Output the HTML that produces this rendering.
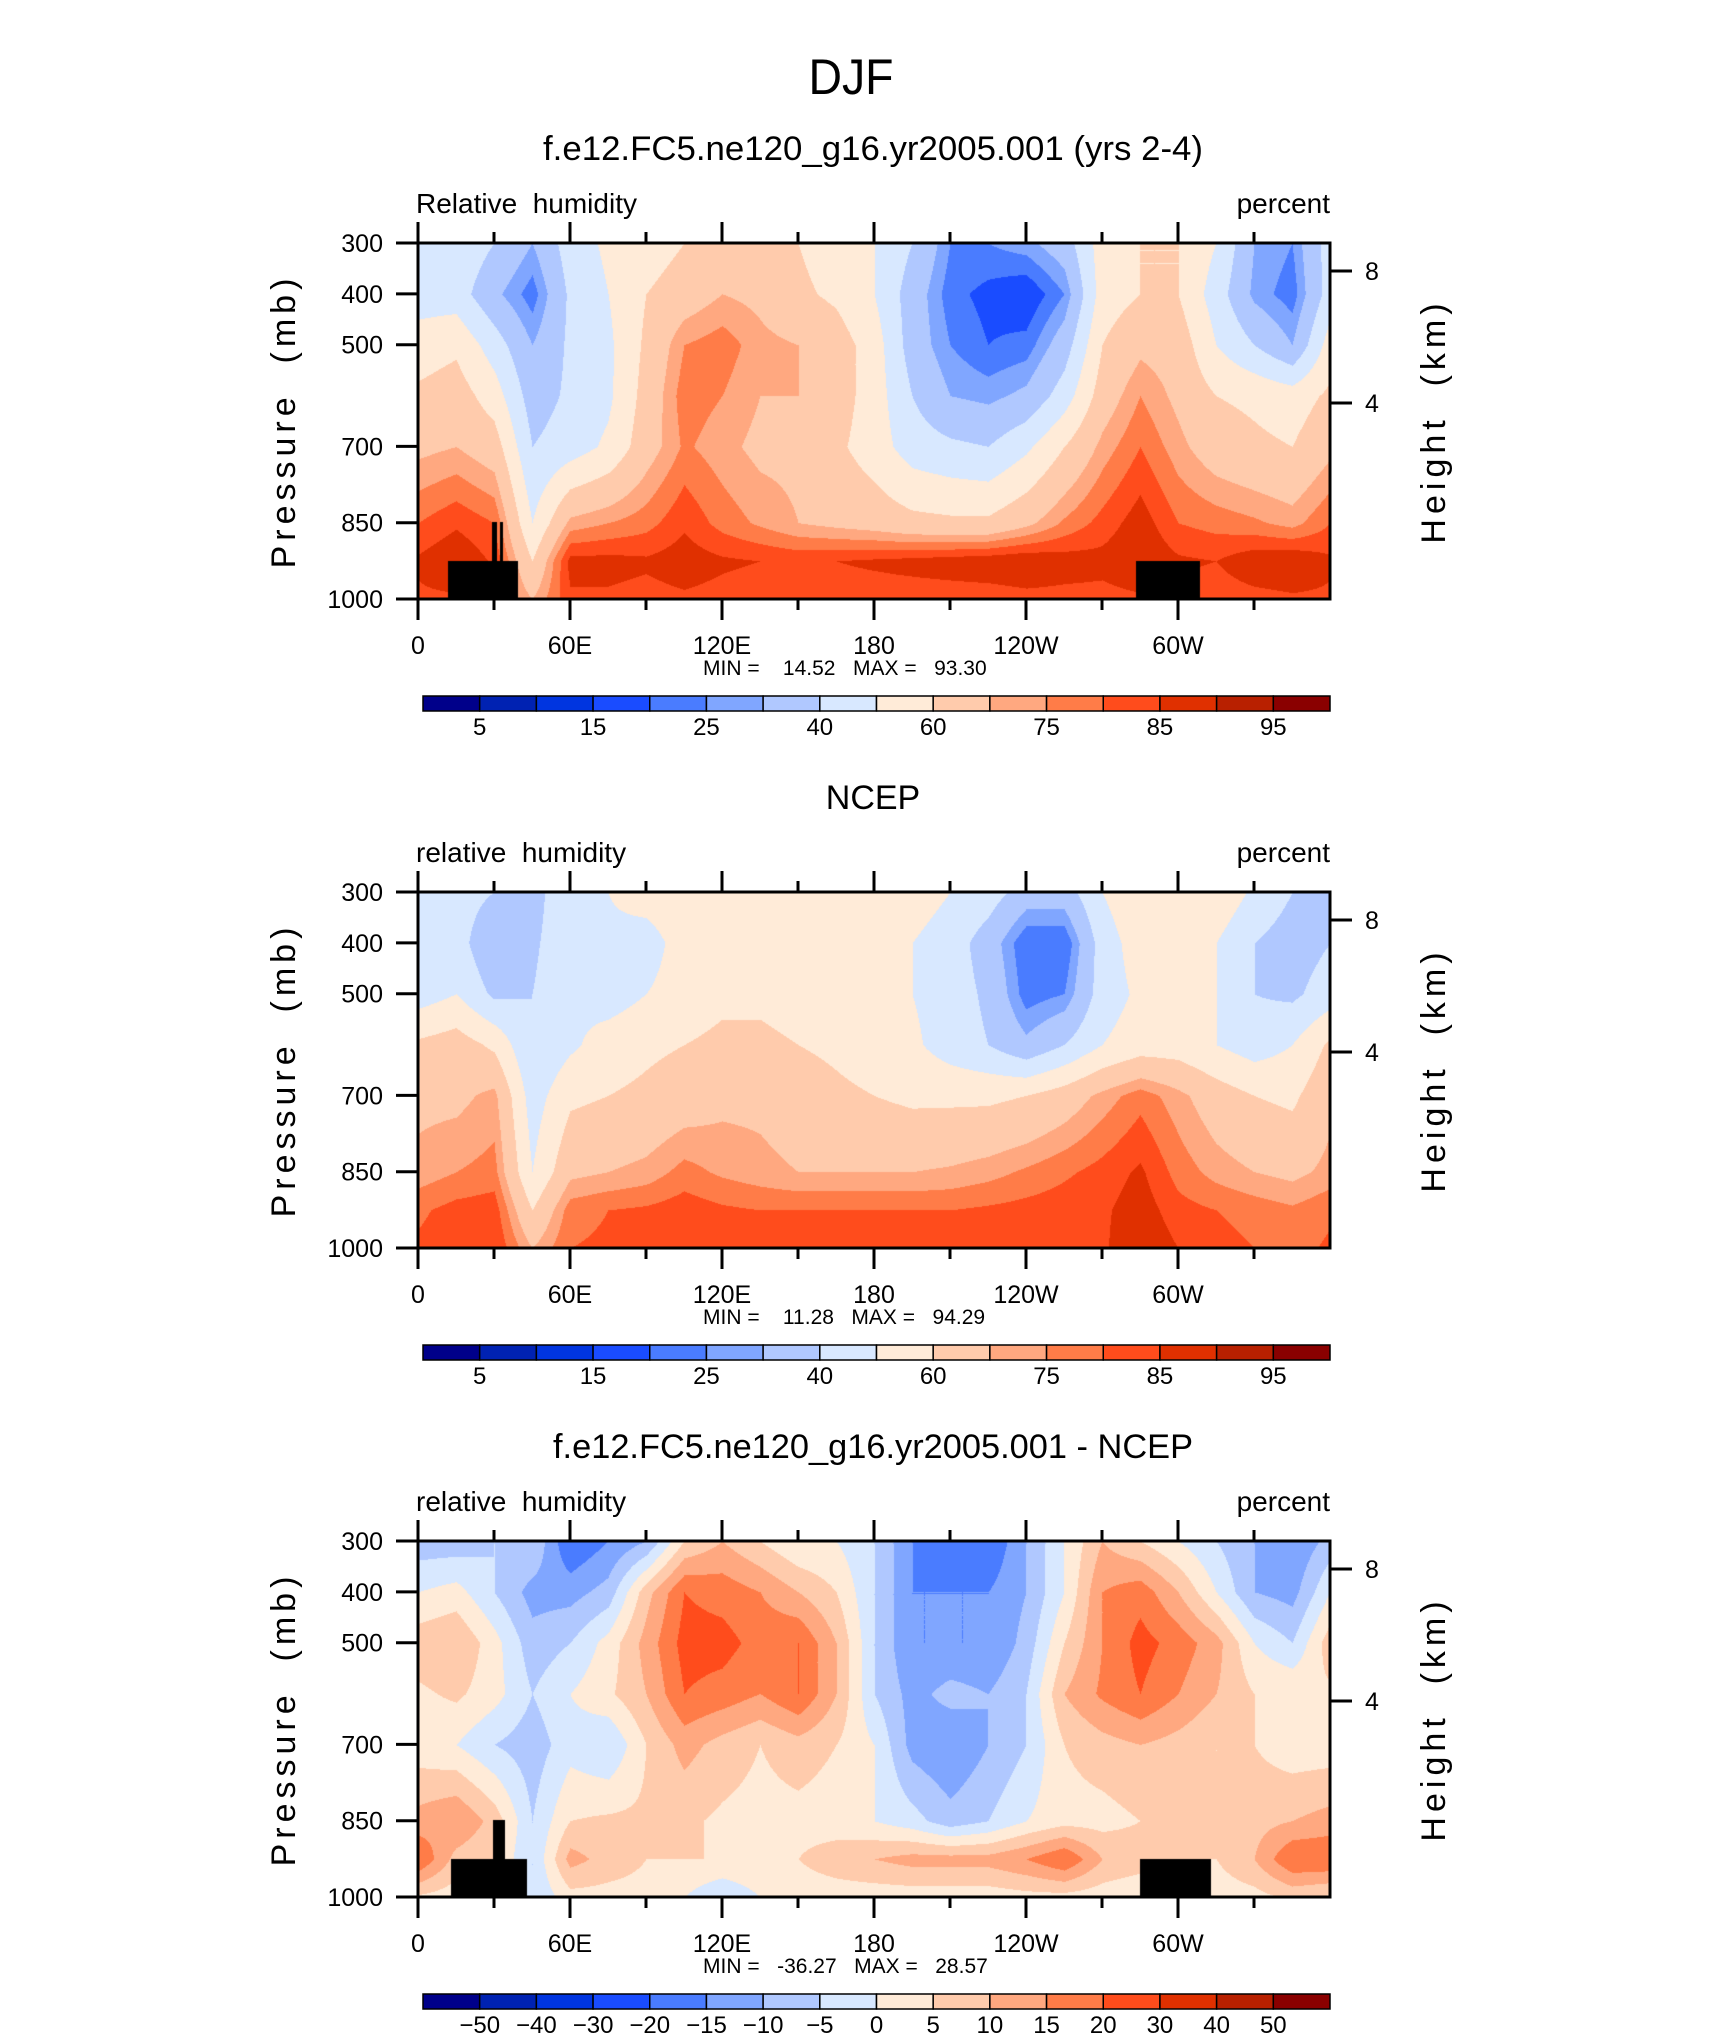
<!DOCTYPE html>
<html><head><meta charset="utf-8"><style>
html,body{margin:0;padding:0;background:#fff;}
#root{position:relative;width:1710px;height:2038px;overflow:hidden;}
canvas{position:absolute;}
svg{position:absolute;left:0;top:0;}
text{font-family:"Liberation Sans",sans-serif;fill:#000;}
</style></head><body>
<div id="root">
<canvas id="c0"></canvas>
<canvas id="c1"></canvas>
<canvas id="c2"></canvas>
<svg id="svg" width="1710" height="2038">
<text x="851" y="94" font-size="50" text-anchor="middle" textLength="85" lengthAdjust="spacingAndGlyphs">DJF</text>
</svg>
</div>
<script>
// ---- data ----
const lons = [0,15,30,45,60,75,90,105,120,135,150,165,180,195,210,225,240,255,270,285,300,315,330,345,360];
const levels = [300,400,500,600,700,850,925,1000];
const modelRH = [
[45,48,40,30,45,52,55,60,65,65,60,55,50,40,25,25,28,35,55,60,60,50,30,25,45],
[45,45,32,22,42,50,60,65,70,68,62,58,50,35,22,18,15,25,55,60,60,45,28,22,45],
[55,58,45,30,42,48,62,75,78,72,70,65,55,35,25,20,22,35,60,68,66,50,40,30,55],
[62,65,55,35,42,48,64,78,75,70,70,65,55,40,30,28,32,45,65,75,68,60,58,55,62],
[68,70,65,40,45,52,66,76,72,68,68,62,55,45,42,40,48,60,72,80,72,65,62,60,68],
[80,84,80,50,72,75,78,84,78,74,70,68,66,63,62,62,68,76,82,88,80,78,76,73,80],
[86,90,84,60,87,87,86,88,86,85,84,85,86,87,88,89,90,88,87,90,86,85,89,90,86],
[84,84,82,70,84,84,83,84,83,82,82,82,82,82,82,82,83,83,83,84,83,82,83,84,84]];
const ncepRH = [
[40,45,40,35,50,50,55,58,58,58,58,58,57,55,50,45,35,35,50,58,60,58,48,40,40],
[40,45,30,38,48,48,45,55,56,56,56,55,52,50,45,35,20,20,45,55,55,50,40,35,40],
[45,50,38,40,48,45,50,55,58,58,56,55,53,50,45,38,22,25,45,52,55,50,40,38,45],
[62,65,58,40,48,55,58,60,62,62,60,58,55,52,45,40,32,40,50,55,55,50,45,50,62],
[68,68,72,45,58,60,62,65,68,68,65,62,60,58,58,58,60,65,72,78,72,65,60,58,68],
[72,75,77,50,68,70,72,77,74,72,70,70,70,70,71,73,76,79,82,86,78,73,70,68,72],
[79,82,83,60,78,80,81,83,81,80,80,80,80,80,80,81,82,83,84,88,82,80,78,76,79],
[81,83,85,70,80,81,82,84,83,82,82,82,82,82,82,83,83,84,84,90,85,82,80,78,81]];
const diffRH = [
[-8,-8,-5,-5,-20,-15,-10,5,10,5,0,0,-5,-15,-20,-20,-10,0,10,5,0,-5,-10,-15,-8],
[0,2,-5,-12,-12,-8,8,20,18,15,10,5,-5,-15,-15,-15,-10,0,15,18,10,0,-10,-12,0],
[8,10,2,-8,-5,2,12,22,22,18,20,10,-5,-15,-15,-15,-8,5,15,22,18,12,0,-5,8],
[4,6,2,-5,0,4,10,20,18,15,20,10,-5,-12,-8,-10,-5,10,16,20,15,10,5,5,4],
[2,0,-5,-8,-2,-5,5,12,8,5,8,5,0,-12,-15,-10,-5,5,8,10,8,5,5,2,2],
[12,15,8,-5,5,6,6,6,4,3,3,2,0,-3,-8,-5,0,3,3,5,5,5,8,10,12],
[20,8,5,-5,12,8,5,5,5,5,5,8,10,12,12,12,15,20,10,8,5,5,10,20,20],
[4,2,2,-5,3,3,3,0,-5,0,2,2,2,2,2,2,3,3,2,0,2,2,3,6,4]];
const rhLevels = [5,10,15,20,25,30,40,50,60,70,75,80,85,90,95];
const rhLabels = ["5","15","25","40","60","75","85","95"];
const diffLevels = [-50,-40,-30,-20,-15,-10,-5,0,5,10,15,20,30,40,50];
const diffLabels = ["-50","-40","-30","-20","-15","-10","-5","0","5","10","15","20","30","40","50"];
const xTickLons = [0,60,120,180,240,300];
const xTickLabels = ["0","60E","120E","180","120W","60W"];
const pTicks = [300,400,500,700,850,1000];
const hTicks = [8,4];
const titles = ["f.e12.FC5.ne120_g16.yr2005.001 (yrs 2-4)","NCEP","f.e12.FC5.ne120_g16.yr2005.001 - NCEP"];
const leftLabels = ["Relative  humidity","relative  humidity","relative  humidity"];
const minmax = [["14.52","93.30"],["11.28","94.29"],["-36.27","28.57"]];
const colors = ["#00008a","#0022b2","#0035e0","#1a4cff","#4a7cff","#80a6ff","#b0c8ff","#d8e8ff","#ffebd8","#ffcbac","#ffa880","#ff7c48","#ff4c1c","#e03000","#b82000","#8a0000"];

// ---- layout ----
const X0=418, X1=1330, PH=356, PANEL_DY=649, TOP0=243;
const NS='http://www.w3.org/2000/svg';
const svg=document.getElementById('svg');
function xs(lon){return X0+(X1-X0)*lon/360;}
function ys(p,top){return top+PH*(p-300)/700;}
function hy(h,top){return top+28+(8-h)*(160-28)/4;}
function el(tag,attrs,text){const e=document.createElementNS(NS,tag);for(const k in attrs)e.setAttribute(k,attrs[k]);if(text!==undefined)e.textContent=text;svg.appendChild(e);return e;}

function valueAt(grid,lon,p){
  let i=Math.min(lons.length-2,Math.floor(lon/15));let fx=(lon-lons[i])/15;
  let j=0;while(j<levels.length-2&&p>levels[j+1])j++;
  let fy=(p-levels[j])/(levels[j+1]-levels[j]);
  const a=grid[j][i],b=grid[j][i+1],c=grid[j+1][i],d=grid[j+1][i+1];
  return (a*(1-fx)+b*fx)*(1-fy)+(c*(1-fx)+d*fx)*fy;
}
function colorIdx(v,lv){let k=0;while(k<lv.length&&v>=lv[k])k++;return k;}
function hexToRgb(h){return [parseInt(h.substr(1,2),16),parseInt(h.substr(3,2),16),parseInt(h.substr(5,2),16)];}
const rgb=colors.map(hexToRgb);

const grids=[modelRH,ncepRH,diffRH];
const lvls=[rhLevels,rhLevels,diffLevels];
const labs=[rhLabels,rhLabels,diffLabels];
const topo=[true,false,true];

for(let n=0;n<3;n++){
  const top=TOP0+n*PANEL_DY;
  const cv=document.getElementById('c'+n);
  const W=X1-X0,H=PH;
  cv.width=W;cv.height=H;cv.style.left=X0+'px';cv.style.top=top+'px';
  const ctx=cv.getContext('2d');const img=ctx.createImageData(W,H);
  for(let y=0;y<H;y++){const p=300+700*y/H;
    for(let x=0;x<W;x++){const lon=360*x/W;const v=valueAt(grids[n],lon,p);
      const c=rgb[colorIdx(v,lvls[n])];const o=(y*W+x)*4;
      img.data[o]=c[0];img.data[o+1]=c[1];img.data[o+2]=c[2];img.data[o+3]=255;}}
  ctx.putImageData(img,0,0);
  if(topo[n]){
    ctx.fillStyle='#000';
    if(n===0){ctx.fillRect(448-X0,561-243,70,H);ctx.fillRect(492-X0,522-243,5,H);ctx.fillRect(500-X0,522-243,3,H);ctx.fillRect(1136-X0,561-243,64,H);}
    else{ctx.fillRect(451-X0,1859-top,76,H);ctx.fillRect(493-X0,1820-top,12,H);ctx.fillRect(1140-X0,1859-top,71,H);}
  }
  const t=el('text',{x:873,y:top-83,'font-size':34,'text-anchor':'middle'},titles[n]);
  
  
  if(n!==1){t.setAttribute('textLength',n===0?660:640);t.setAttribute('lengthAdjust','spacingAndGlyphs');}
  const ll=el('text',{x:416,y:top-30,'font-size':28,'font-weight':'lighter',style:'white-space:pre'},leftLabels[n]);
  
  
  const pr=el('text',{x:1330,y:top-30,'font-size':28,'text-anchor':'end'},'percent');
  
  
  const fr=el('rect',{x:X0,y:top,width:X1-X0,height:PH,fill:'none',stroke:'#000','stroke-width':3});
  
  
  for(let lon=0;lon<=330;lon+=30){const major=lon%60===0;const x=xs(lon);
    const a=el('line',{x1:x,x2:x,y1:top,y2:top-(major?21:11),stroke:'#000','stroke-width':3});
    
    
    const b=el('line',{x1:x,x2:x,y1:top+PH,y2:top+PH+(major?21:11),stroke:'#000','stroke-width':3});
    
    }
  xTickLons.forEach((lon,i)=>{const tx=el('text',{x:xs(lon),y:top+PH+55,'font-size':25,'text-anchor':'middle'},xTickLabels[i]);
    
    });
  pTicks.forEach(p=>{const y=ys(p,top);
    const l=el('line',{x1:X0-22,x2:X0,y1:y,y2:y,stroke:'#000','stroke-width':3});
    
    
    const tx=el('text',{x:383,y:y+9,'font-size':25,'text-anchor':'end'},String(p));
    
    });
  hTicks.forEach(h=>{const y=hy(h,top);
    const l=el('line',{x1:X1,x2:X1+22,y1:y,y2:y,stroke:'#000','stroke-width':3});
    
    
    const tx=el('text',{x:1365,y:y+9,'font-size':25},String(h));
    
    });
  const cy=top+PH/2;
  const yl=el('text',{x:0,y:0,'font-size':34,'text-anchor':'middle',transform:`translate(295,${cy}) rotate(-90)`,style:'letter-spacing:5px;white-space:pre','font-weight':'lighter'},'Pressure  (mb)');
  
  
  const hl=el('text',{x:0,y:0,'font-size':34,'text-anchor':'middle',transform:`translate(1445,${cy}) rotate(-90)`,style:'letter-spacing:5px;white-space:pre','font-weight':'lighter'},'Height  (km)');
  
  
  const mm=el('text',{x:703,y:top+PH+76,'font-size':21,style:'white-space:pre'},'MIN = '+minmax[n][0].padStart(8,' ')+'   MAX = '+minmax[n][1].padStart(7,' '));
  
  
  const cbTop=top+453,cbX=423,cw=(1330-423)/16;
  for(let k=0;k<16;k++){const r=el('rect',{x:cbX+k*cw,y:cbTop,width:cw,height:15,fill:colors[k],stroke:'#000','stroke-width':1.5});
    
    }
  const step=lvls[n].length/labs[n].length>1.5?2:1;
  labs[n].forEach((lab,i)=>{const k=i*step;const tx=el('text',{x:cbX+(k+1)*cw,y:cbTop+39,'font-size':24,'text-anchor':'middle'},lab.replace('-','\u2212'));
    
    });
}
</script>
</body></html>
